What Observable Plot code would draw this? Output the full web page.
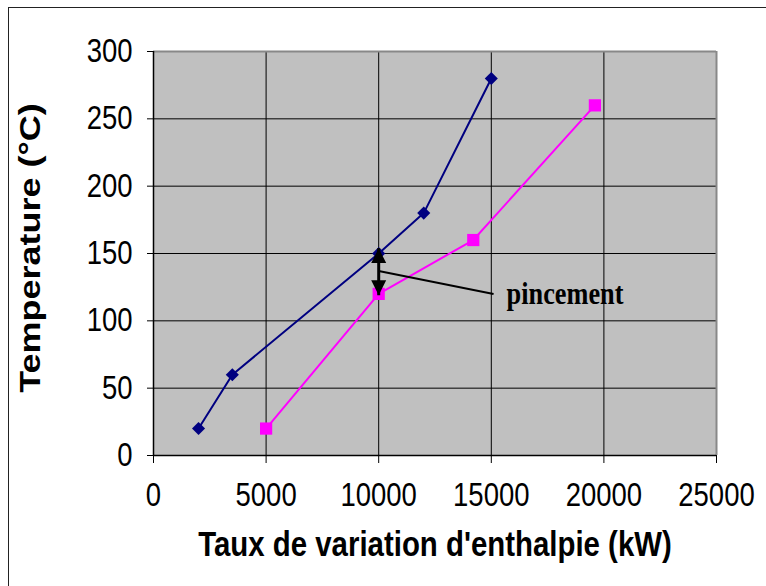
<!DOCTYPE html>
<html>
<head>
<meta charset="utf-8">
<script src="https://cdn.jsdelivr.net/npm/d3@7"></script>
<script src="https://cdn.jsdelivr.net/npm/@observablehq/plot@0.6"></script>
<style>
  html, body { margin: 0; padding: 0; background: #fff; overflow: hidden; }
  #wrap { position: relative; width: 766px; height: 586px; }
  #frame { position: absolute; left: 8px; top: 7px; width: 800px; height: 620px; border: 1.5px solid #222; box-sizing: border-box; pointer-events: none; }
</style>
</head>
<body>
<div id="wrap"><div id="frame"></div></div>
<script>
// Hot stream (navy diamonds)
const hotX = [2000, 3500, 10000, 12000, 15000];
const hotT = [20, 60, 150, 180, 280];
// Cold stream (magenta squares)
const coldX = [5000, 10000, 14200, 19600];
const coldT = [20, 120, 160, 260];
// Axis ticks and titles
const xTicks = [0, 5000, 10000, 15000, 20000, 25000];
const yTicks = [0, 50, 100, 150, 200, 250, 300];
const xTitle = ["Taux de variation d'enthalpie (kW)"];
const yTitle = ["Temperature (°C)"];
// Pinch annotation
const pinchX = [10000];
const pinchTop = [154];
const pinchBottom = [119];
const leaderFrom = [10000, 137];
const leaderTo = [15100, 120];
const labelPos = [15680, 120];
const labelText = ["pincement"];

const hot = hotX.map((x, i) => ({x, t: hotT[i]}));
const cold = coldX.map((x, i) => ({x, t: coldT[i]}));

const arrowHead = {
  draw(ctx) {
    const w = 15, h = 15;
    ctx.moveTo(0, 0);
    ctx.lineTo(-w / 2, h);
    ctx.lineTo(w / 2, h);
    ctx.closePath();
  }
};

const SANS = "Liberation Sans, Arial, sans-serif";

const plot = Plot.plot({
  width: 766,
  height: 586,
  marginLeft: 153,
  marginRight: 50,
  marginTop: 51,
  marginBottom: 131,
  style: {background: "transparent", fontFamily: SANS, color: "#000"},
  x: {domain: [0, 25000], ticks: xTicks},
  y: {domain: [0, 300], ticks: yTicks},
  marks: [
    Plot.frame({fill: "#c0c0c0", stroke: null}),
    Plot.gridX(xTicks, {stroke: "#000", strokeOpacity: 1, strokeWidth: 1}),
    Plot.gridY(yTicks, {stroke: "#000", strokeOpacity: 1, strokeWidth: 1}),
    Plot.ruleY([300], {stroke: "#888", strokeWidth: 2}),
    Plot.ruleX([25000], {stroke: "#888", strokeWidth: 2}),
    Plot.ruleX([0], {stroke: "#000", strokeWidth: 1.5}),
    Plot.ruleY([0], {stroke: "#000", strokeWidth: 1.5}),
    Plot.axisX(xTicks, {tickSize: 8, tickPadding: 19, fontSize: 27.5, stroke: "#000", label: null, tickFormat: d => String(d)}),
    Plot.axisY(yTicks, {tickSize: 6, tickPadding: 15, fontSize: 27.5, stroke: "#000", label: null, tickFormat: d => String(d)}),
    Plot.text(xTitle, {frameAnchor: "bottom", dy: 89, textAnchor: "middle", lineAnchor: "middle", text: d => d, fontSize: 29.4, fontWeight: "bold", fill: "#000"}),
    Plot.text(yTitle, {frameAnchor: "left", dx: -123, dy: -5.5, rotate: -90, textAnchor: "middle", lineAnchor: "middle", text: d => d, fontSize: 30, fontWeight: "bold", fill: "#000"}),
    Plot.line(hot, {x: "x", y: "t", stroke: "#000080", strokeWidth: 2}),
    Plot.line(cold, {x: "x", y: "t", stroke: "#ff00ff", strokeWidth: 2}),
    Plot.dot(hot, {x: "x", y: "t", symbol: "diamond2", r: 5.9, fill: "#000080", stroke: null}),
    Plot.dot(cold, {x: "x", y: "t", symbol: "square", r: 6.9, fill: "#ff00ff", stroke: null}),
    // pinch double arrow
    Plot.link(pinchX, {x1: d => d, x2: d => d, y1: (d, i) => pinchBottom[i], y2: (d, i) => pinchTop[i], stroke: "#000", strokeWidth: 3}),
    Plot.dot(pinchX, {x: d => d, y: (d, i) => pinchTop[i], symbol: arrowHead, fill: "#000", stroke: null}),
    Plot.dot(pinchX, {x: d => d, y: (d, i) => pinchBottom[i], symbol: arrowHead, rotate: 180, fill: "#000", stroke: null}),
    Plot.link([0], {x1: () => leaderFrom[0], y1: () => leaderFrom[1], x2: () => leaderTo[0], y2: () => leaderTo[1], stroke: "#000", strokeWidth: 2}),
    Plot.text(labelText, {x: () => labelPos[0], y: () => labelPos[1], text: d => d, textAnchor: "start", lineAnchor: "middle",
      fontFamily: "Liberation Serif, Times New Roman, serif", fontWeight: "bold", fontSize: 26.3, fill: "#000"})
  ]
});

plot.style.position = "absolute";
plot.style.left = "0";
plot.style.top = "0";
document.getElementById("wrap").prepend(plot);

// The original Excel chart's text is stretched vertically; reproduce that.
const S = 1.2;
d3.select(plot).selectAll("text").each(function () {
  const tr = this.getAttribute("transform");
  if (tr && /translate\(/.test(tr)) {
    this.setAttribute("transform", tr.replace(/(translate\([^)]*\))/, `$1 scale(1,${S})`));
  } else {
    const x = parseFloat(this.getAttribute("x")) || 0;
    const y = parseFloat(this.getAttribute("y")) || 0;
    this.removeAttribute("x");
    this.removeAttribute("y");
    this.setAttribute("transform", `translate(${x},${y}) scale(1,${S})` + (tr ? " " + tr : ""));
  }
});
</script>
</body>
</html>
